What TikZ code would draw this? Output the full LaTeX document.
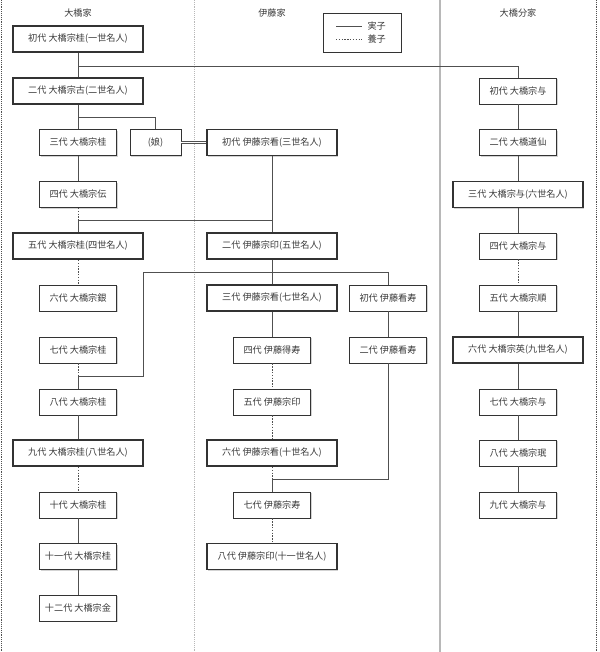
\documentclass[tikz,border=0pt]{standalone}
\usepackage{fontspec}
\setmainfont{Noto Sans CJK JP}
\usepackage{tikz}
\usetikzlibrary{shadows}
\definecolor{kfBox}{HTML}{333333}
\definecolor{kfText}{HTML}{3A3A3A}
\definecolor{kfLine}{HTML}{505050}
\definecolor{kfSep}{HTML}{B8B8B8}

\begin{document}
\begin{tikzpicture}[x=0.03cm,y=-0.03cm,font=\fontsize{7.8}{9}\selectfont,text=kfText,
    kbox/.style={draw=kfBox,fill=white,line width=0.8pt,
                 minimum width=2.31cm,minimum height=0.78cm,inner sep=1pt,
                 drop shadow={shadow xshift=1.1pt,shadow yshift=-1.1pt,opacity=0.35}},
    meijin/.style={kbox,line width=1.6pt,minimum width=3.9cm},
    jitsu/.style={draw=kfLine,line width=0.8pt},
    yoshi/.style={jitsu,dash pattern=on 1.2pt off 1.2pt}]
  \useasboundingbox (0,0) rectangle (600,652);
  % frame and column separators
  \draw[kfLine,line width=0.6pt,dash pattern=on 0.8pt off 0.8pt] (1,0) -- (1,652);
  \draw[kfLine,line width=0.6pt,dash pattern=on 0.8pt off 0.8pt] (596,0) -- (596,652);
  \draw[kfSep,line width=0.5pt,dash pattern=on 0.8pt off 0.8pt] (194,0) -- (194,652);
  \draw[kfSep,line width=1.4pt] (440,0) -- (440,652);

  \node (hOhashi) at (78,13)  {大橋家};
  \node (hIto)    at (272,13) {伊藤家};
  \node (hBunke)  at (518,13) {大橋分家};

  % legend
  \node[kbox,minimum width=2.34cm,minimum height=1.17cm] (legend) at (362,32.5) {};
  \coordinate (lgA) at (336,26);
  \coordinate (lgB) at (336,39);
  \draw[jitsu] (lgA) -- ++(26,0) node[right=1pt,text=kfText] (lgJ) {実子};
  \draw[yoshi] (lgB) -- ++(26,0) node[right=1pt,text=kfText] (lgY) {養子};

  % 大橋家
  \node[meijin] (oh1)  at (78,39)    {初代 大橋宗桂(一世名人)};
  \node[meijin] (oh2)  at (78,91)    {二代 大橋宗古(二世名人)};
  \node[kbox]   (oh3)  at (78,142.5) {三代 大橋宗桂};
  \node[kbox,minimum width=1.53cm] (musume) at (155.5,142.5) {(娘)};
  \node[kbox]   (oh4)  at (78,194.5) {四代 大橋宗伝};
  \node[meijin] (oh5)  at (78,246)   {五代 大橋宗桂(四世名人)};
  \node[kbox]   (oh6)  at (78,298)   {六代 大橋宗銀};
  \node[kbox]   (oh7)  at (78,350)   {七代 大橋宗桂};
  \node[kbox]   (oh8)  at (78,402)   {八代 大橋宗桂};
  \node[meijin] (oh9)  at (78,453)   {九代 大橋宗桂(八世名人)};
  \node[kbox]   (oh10) at (78,505)   {十代 大橋宗桂};
  \node[kbox]   (oh11) at (78,556.5) {十一代 大橋宗桂};
  \node[kbox]   (oh12) at (78,608)   {十二代 大橋宗金};

  % 伊藤家
  \node[meijin] (it1) at (272,142.5) {初代 伊藤宗看(三世名人)};
  \node[meijin] (it2) at (272,246)   {二代 伊藤宗印(五世名人)};
  \node[meijin] (it3) at (272,298)   {三代 伊藤宗看(七世名人)};
  \node[kbox]   (it4) at (272,350)   {四代 伊藤得寿};
  \node[kbox]   (it5) at (272,402)   {五代 伊藤宗印};
  \node[meijin] (it6) at (272,453)   {六代 伊藤宗看(十世名人)};
  \node[kbox]   (it7) at (272,505)   {七代 伊藤宗寿};
  \node[meijin] (it8) at (272,556.5) {八代 伊藤宗印(十一世名人)};
  \node[kbox]   (ik1) at (388,298)   {初代 伊藤看寿};
  \node[kbox]   (ik2) at (388,350)   {二代 伊藤看寿};

  % 大橋分家
  \node[kbox]   (ob1) at (518,91)    {初代 大橋宗与};
  \node[kbox]   (ob2) at (518,142.5) {二代 大橋道仙};
  \node[meijin] (ob3) at (518,194.5) {三代 大橋宗与(六世名人)};
  \node[kbox]   (ob4) at (518,246)   {四代 大橋宗与};
  \node[kbox]   (ob5) at (518,298)   {五代 大橋宗順};
  \node[meijin] (ob6) at (518,350)   {六代 大橋宗英(九世名人)};
  \node[kbox]   (ob7) at (518,402)   {七代 大橋宗与};
  \node[kbox]   (ob8) at (518,453)   {八代 大橋宗珉};
  \node[kbox]   (ob9) at (518,505)   {九代 大橋宗与};

  \coordinate (j1) at (78,66);
  \coordinate (j2) at (78,117);
  \coordinate (j4) at (78,220);
  \coordinate (j7) at (78,376);
  \coordinate (j9) at (272,479);

  \draw[jitsu] (oh1) -- (oh2);
  \draw[jitsu] (j1) -| (ob1.north);
  \draw[jitsu] (oh2) -- (oh3);
  \draw[jitsu] (j2) -| (musume.north);
  \draw[jitsu,double=white,double distance=1.3pt,line width=0.6pt] (musume) -- (it1);
  \draw[jitsu] (oh3) -- (oh4);
  \draw[yoshi] (oh4) -- (j4);
  \draw[jitsu] (j4) -- (oh5);
  \draw[jitsu] (it1) -- (it2);
  \draw[jitsu] (j4) -- (j4 -| it1);
  \draw[yoshi] (oh5) -- (oh6);
  \draw[yoshi] (oh7) -- (j7);
  \draw[jitsu] (j7) -- (oh8);
  \draw[jitsu] (j7) -| (143,272) -| (ik1.north);
  \draw[jitsu] (it2) -- (it3);
  \draw[jitsu] (oh8) -- (oh9);
  \draw[yoshi] (oh9) -- (oh10);
  \draw[jitsu] (oh10) -- (oh11);
  \draw[jitsu] (oh11) -- (oh12);

  \draw[jitsu] (it3) -- (it4);
  \draw[yoshi] (it4) -- (it5);
  \draw[yoshi] (it5) -- (it6);
  \draw[yoshi] (it6) -- (j9);
  \draw[jitsu] (j9) -- (it7);
  \draw[jitsu] (ik1) -- (ik2);
  \draw[jitsu] (ik2) |- (j9);
  \draw[yoshi] (it7) -- (it8);

  \draw[jitsu] (ob1) -- (ob2);
  \draw[jitsu] (ob2) -- (ob3);
  \draw[jitsu] (ob3) -- (ob4);
  \draw[yoshi] (ob4) -- (ob5);
  \draw[jitsu] (ob5) -- (ob6);
  \draw[jitsu] (ob6) -- (ob7);
  \draw[jitsu] (ob7) -- (ob8);
  \draw[jitsu] (ob8) -- (ob9);
\end{tikzpicture}
\end{document}
